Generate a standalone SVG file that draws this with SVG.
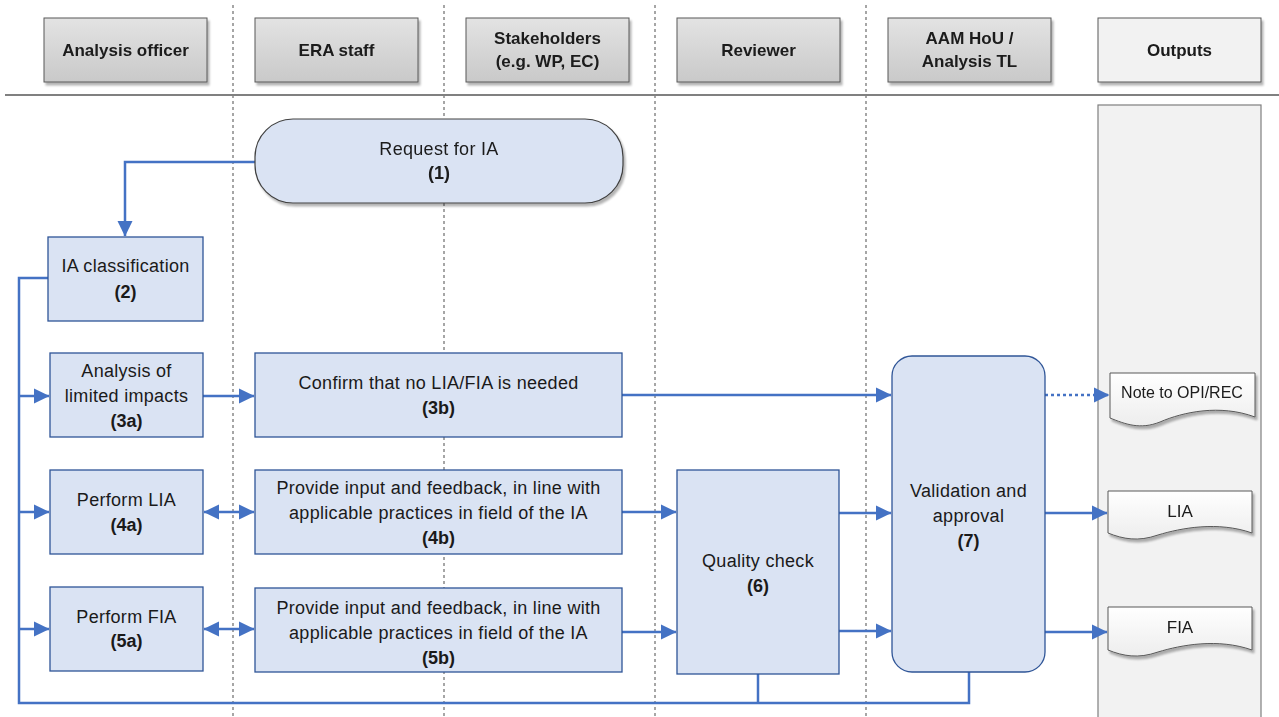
<svg xmlns="http://www.w3.org/2000/svg" width="1279" height="717" viewBox="0 0 1279 717">
<defs>
<linearGradient id="hdrGrad" x1="0" y1="0" x2="0" y2="1">
<stop offset="0" stop-color="#E3E3E3"/>
<stop offset="1" stop-color="#C9C9C9"/>
</linearGradient>
<linearGradient id="docGrad" x1="0" y1="0" x2="0" y2="1">
<stop offset="0" stop-color="#FFFFFF"/>
<stop offset="1" stop-color="#EDEDED"/>
</linearGradient>
<filter id="shadow" x="-10%" y="-10%" width="130%" height="140%">
<feGaussianBlur in="SourceAlpha" stdDeviation="1.2"/>
<feOffset dx="2" dy="2.5" result="b"/>
<feComponentTransfer><feFuncA type="linear" slope="0.3"/></feComponentTransfer>
<feMerge><feMergeNode/><feMergeNode in="SourceGraphic"/></feMerge>
</filter>
<marker id="arr" viewBox="0 0 16 16" refX="15" refY="8" markerWidth="16" markerHeight="16" markerUnits="userSpaceOnUse" orient="auto-start-reverse">
<path d="M0,0.5 L15.5,8 L0,15.5 Z" fill="#4472C4"/>
</marker>
</defs>
<style>
.lane{stroke:#A6A6A6;stroke-width:2;stroke-dasharray:3 3;fill:none}
.hdr{fill:url(#hdrGrad);stroke:#595959;stroke-width:1}
.hdrO{fill:#F2F2F2;stroke:#595959;stroke-width:1}
.ht{font-family:"Liberation Sans",Arial,sans-serif;font-size:17px;font-weight:bold;fill:#1A1A1A;text-anchor:middle}
.node{fill:#DAE3F3;stroke:#2F5597;stroke-width:1.3}
.t{font-family:"Liberation Sans",Arial,sans-serif;font-size:18px;fill:#1A1A1A;text-anchor:middle;letter-spacing:0.3px}
.b{font-weight:bold;letter-spacing:0}
.doc{fill:url(#docGrad);stroke:#595959;stroke-width:1}
.dt{font-family:"Liberation Sans",Arial,sans-serif;font-size:16px;fill:#1A1A1A;text-anchor:middle}
.c{fill:none;stroke:#4472C4;stroke-width:2.5}
.ca{fill:none;stroke:#4472C4;stroke-width:2.5;marker-end:url(#arr)}
.cd{fill:none;stroke:#4472C4;stroke-width:2.5;marker-end:url(#arr);marker-start:url(#arr)}
</style>
<rect width="1279" height="717" fill="#FFFFFF"/>

<g id="lanes">
<line class="lane" x1="233" y1="5" x2="233" y2="717"/>
<line class="lane" x1="444" y1="5" x2="444" y2="717"/>
<line class="lane" x1="655" y1="5" x2="655" y2="717"/>
<line class="lane" x1="866" y1="5" x2="866" y2="717"/>
<rect id="outputs-lane" x="1098" y="105" width="163" height="620" fill="#F2F2F2" stroke="#7F7F7F" stroke-width="1.2"/>
<line x1="5" y1="95" x2="1279" y2="95" stroke="#808080" stroke-width="2"/>
</g>

<g id="header-analysis-officer" filter="url(#shadow)"><rect class="hdr" x="44" y="18" width="163" height="64"/><text class="ht" x="125.5" y="56">Analysis officer</text></g>
<g id="header-era-staff" filter="url(#shadow)"><rect class="hdr" x="255" y="18" width="163" height="64"/><text class="ht" x="336.5" y="56">ERA staff</text></g>
<g id="header-stakeholders" filter="url(#shadow)"><rect class="hdr" x="466" y="18" width="163" height="64"/><text class="ht" x="547.5" y="44">Stakeholders</text><text class="ht" x="547.5" y="67">(e.g. WP, EC)</text></g>
<g id="header-reviewer" filter="url(#shadow)"><rect class="hdr" x="677" y="18" width="163" height="64"/><text class="ht" x="758.5" y="56">Reviewer</text></g>
<g id="header-aam" filter="url(#shadow)"><rect class="hdr" x="888" y="18" width="163" height="64"/><text class="ht" x="969.5" y="44">AAM HoU /</text><text class="ht" x="969.5" y="67">Analysis TL</text></g>
<g id="header-outputs" filter="url(#shadow)"><rect class="hdrO" x="1098" y="18" width="163" height="64"/><text class="ht" x="1179.5" y="56">Outputs</text></g>

<g id="connectors">
<path class="ca" d="M255,162 H125 V236"/>
<path class="c" d="M48,278 H19 V703 H969 V672"/>
<path class="c" d="M758,673 V703"/>
<path class="ca" d="M19,396 H49"/>
<path class="ca" d="M19,512 H49"/>
<path class="ca" d="M19,629 H49"/>
<path class="ca" d="M203,396 H254"/>
<path class="ca" d="M622,395 H891"/>
<path class="ca" d="M1045,395 H1109" stroke-dasharray="3 3"/>
<path class="cd" d="M204,512 H254"/>
<path class="cd" d="M204,629 H254"/>
<path class="ca" d="M622,512 H676"/>
<path class="ca" d="M622,632 H676"/>
<path class="ca" d="M839,513 H891"/>
<path class="ca" d="M839,631 H891"/>
<path class="ca" d="M1045,513 H1107"/>
<path class="ca" d="M1045,632 H1107"/>
</g>

<g id="n1" filter="url(#shadow)"><rect x="255" y="119" width="368" height="84" rx="38" ry="38" fill="#DAE3F3" stroke="#404040" stroke-width="1.2"/><text class="t" x="439" y="155">Request for IA</text><text class="t b" x="439" y="179">(1)</text></g>
<g id="n2"><rect class="node" x="48" y="237" width="155" height="84"/><text class="t" x="125.5" y="272">IA classification</text><text class="t b" x="125.5" y="298">(2)</text></g>
<g id="n3a"><rect class="node" x="50" y="353" width="153" height="84"/><text class="t" x="126.5" y="377">Analysis of</text><text class="t" x="126.5" y="402">limited impacts</text><text class="t b" x="126.5" y="427">(3a)</text></g>
<g id="n3b"><rect class="node" x="255" y="353" width="367" height="84"/><text class="t" x="438.5" y="389">Confirm that no LIA/FIA is needed</text><text class="t b" x="438.5" y="414">(3b)</text></g>
<g id="n4a"><rect class="node" x="50" y="470" width="153" height="84"/><text class="t" x="126.5" y="506">Perform LIA</text><text class="t b" x="126.5" y="531">(4a)</text></g>
<g id="n4b"><rect class="node" x="255" y="470" width="367" height="84"/><text class="t" x="438.5" y="494">Provide input and feedback, in line with</text><text class="t" x="438.5" y="519">applicable practices in field of the IA</text><text class="t b" x="438.5" y="544">(4b)</text></g>
<g id="n5a"><rect class="node" x="50" y="587" width="153" height="84"/><text class="t" x="126.5" y="623">Perform FIA</text><text class="t b" x="126.5" y="647">(5a)</text></g>
<g id="n5b"><rect class="node" x="255" y="588" width="367" height="84"/><text class="t" x="438.5" y="614">Provide input and feedback, in line with</text><text class="t" x="438.5" y="639">applicable practices in field of the IA</text><text class="t b" x="438.5" y="664">(5b)</text></g>
<g id="n6"><rect class="node" x="677" y="470" width="162" height="204"/><text class="t" x="758" y="567">Quality check</text><text class="t b" x="758" y="592">(6)</text></g>
<g id="n7"><rect class="node" x="892" y="356" width="153" height="316" rx="20" ry="20"/><text class="t" x="968.5" y="497">Validation and</text><text class="t" x="968.5" y="522">approval</text><text class="t b" x="968.5" y="547">(7)</text></g>

<g id="out-note" filter="url(#shadow)"><path class="doc" d="M1110,373 H1255 V417 C1220,404 1183,412 1160,422 C1140,430 1125,424 1110,418 Z"/><text class="dt" x="1182" y="398">Note to OPI/REC</text></g>
<g id="out-lia" filter="url(#shadow)"><path class="doc" d="M1108,491 H1252 V533 C1218,521 1181,528 1158,535 C1138,542 1123,539 1108,533 Z"/><text class="dt" x="1180" y="517" style="font-size:17px">LIA</text></g>
<g id="out-fia" filter="url(#shadow)"><path class="doc" d="M1108,607 H1252 V650 C1218,638 1181,645 1158,652 C1138,659 1123,656 1108,650 Z"/><text class="dt" x="1180" y="633" style="font-size:17px">FIA</text></g>
</svg>
